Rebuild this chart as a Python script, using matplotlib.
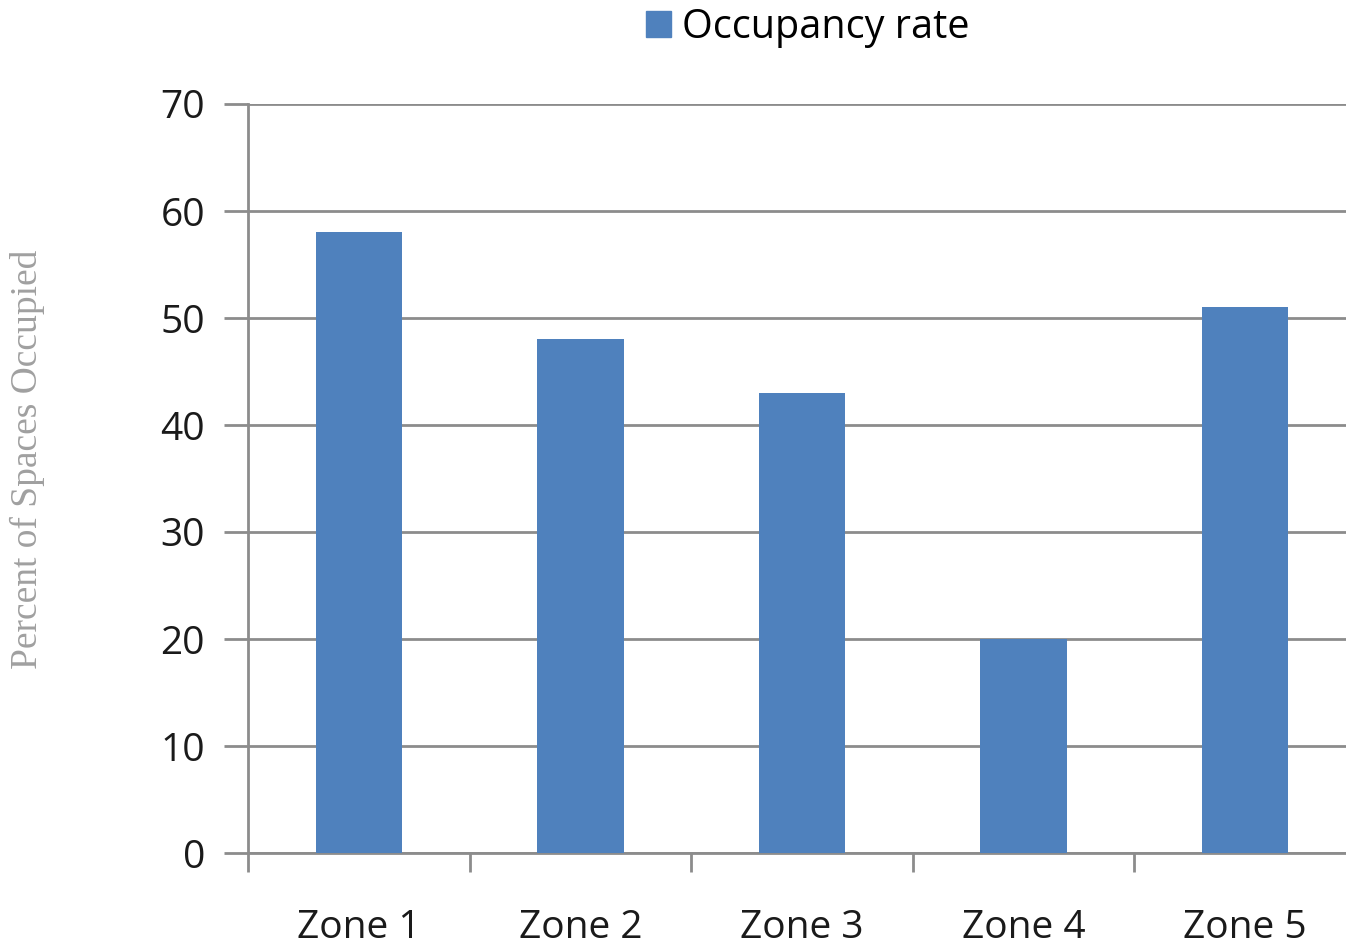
import matplotlib
matplotlib.use("Agg")
import matplotlib.pyplot as plt
from matplotlib.patches import Patch

zones = ["Zone 1", "Zone 2", "Zone 3", "Zone 4", "Zone 5"]
occupancy = [58, 48, 43, 20, 51]
series_name = "Occupancy rate"
y_ticks = [0, 10, 20, 30, 40, 50, 60, 70]

bar_color = "#4f81bd"
grid_color = "#8c8c8c"

plt.rcParams["font.family"] = ["Open Sans", "DejaVu Sans"]

W, H = 1346, 947
fig = plt.figure(figsize=(W / 100, H / 100), dpi=100)
left, right, bottom, top = 248, 1356, 853, 104
ax = fig.add_axes([left / W, (H - bottom) / H, (right - left) / W, (bottom - top) / H])

x = list(range(len(zones)))
ax.bar(x, occupancy, width=0.39, color=bar_color, zorder=3)

ax.set_xlim(-0.5, len(zones) - 0.5)
ax.set_ylim(0, 70)
ax.set_yticks(y_ticks)
ax.set_yticklabels([str(v) for v in y_ticks], fontsize=28, color="#1a1a1a")
ax.yaxis.grid(True, color=grid_color, linewidth=2, zorder=0)

# category boundary ticks
ax.set_xticks([i - 0.5 for i in range(len(zones) + 1)])
ax.set_xticklabels([])
ax.set_xticks(x, minor=True)
ax.set_xticklabels(zones, minor=True, fontsize=28, color="#1a1a1a")
ax.tick_params(axis="x", which="minor", length=0, pad=40)
ax.tick_params(axis="x", which="major", length=14, width=2, color=grid_color)
ax.tick_params(axis="y", length=17, width=2, color=grid_color, pad=14)

for side in ["top", "right"]:
    ax.spines[side].set_visible(False)
for side in ["left", "bottom"]:
    ax.spines[side].set_color(grid_color)
    ax.spines[side].set_linewidth(2)

fig.text(27 / W, 1 - 459 / H, "Percent of Spaces Occupied", family="Liberation Serif",
         fontsize=27, color="#a0a0a0", rotation=90, ha="center", va="center")

fig.legend(handles=[Patch(color=bar_color, label=series_name)],
           loc="center", bbox_to_anchor=(808 / W, 1 - 28 / H), frameon=False,
           fontsize=28.5, handlelength=0.62, handleheight=0.62, handletextpad=0.3,
           borderpad=0)

fig.savefig("out.png", dpi=100)
